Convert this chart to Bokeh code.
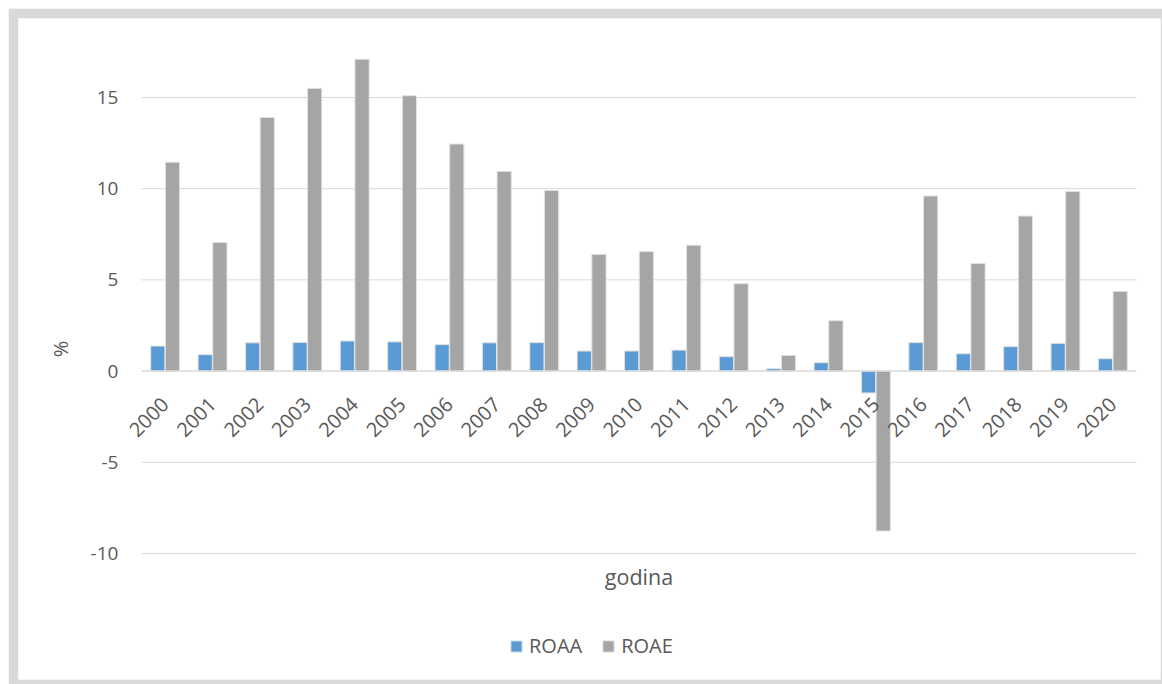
import math
from bokeh.plotting import figure
from bokeh.models import (ColumnDataSource, Legend, LegendItem, Label, Range1d,
                          LinearAxis, FixedTicker)
from bokeh.transform import dodge
from bokeh.embed import file_html
from bokeh.resources import INLINE

years = [str(y) for y in range(2000, 2021)]
roaa = [1.37, 0.90, 1.55, 1.57, 1.65, 1.60, 1.45, 1.55, 1.56, 1.10, 1.10, 1.15,
        0.79, 0.13, 0.46, -1.20, 1.56, 0.95, 1.34, 1.52, 0.68]
roae = [11.45, 7.05, 13.9, 15.5, 17.1, 15.1, 12.45, 10.95, 9.9, 6.4, 6.55, 6.9,
        4.79, 0.86, 2.76, -8.77, 9.6, 5.9, 8.5, 9.85, 4.37]
y_ticks = [-10, -5, 0, 5, 10, 15]

n = len(years)
centers = [i + 0.5 for i in range(n)]
src = ColumnDataSource(dict(xc=centers, year=years, roaa=roaa, roae=roae))

p = figure(x_range=Range1d(-2.595, 21.506), y_range=Range1d(-16.91, 19.33),
           width=1154, height=676, output_backend="svg", toolbar_location=None,
           title=None, x_axis_location=None, y_axis_location="left")
p.styles = {"margin-left": "8px", "margin-top": "8px"}
p.min_border_left = 10
p.min_border_top = 10
p.min_border_right = 2
p.min_border_bottom = 5
p.border_fill_color = "#d9d9d9"
p.background_fill_color = "white"
p.outline_line_color = None
p.xgrid.grid_line_color = None
p.ygrid.grid_line_color = None

# gridlines over the category span only
grid_src = ColumnDataSource(dict(y=[t for t in y_ticks if t != 0]))
p.segment(x0=0, x1=n, y0="y", y1="y", source=grid_src,
          line_color="#d9d9d9", line_width=1)

r1 = p.vbar(x=dodge("xc", -0.155), top="roaa", width=0.30,
            source=src, fill_color="#5b9bd5", line_color="#e2e2e2", line_width=1)
r2 = p.vbar(x=dodge("xc", 0.155), top="roae", width=0.30,
            source=src, fill_color="#a5a5a5", line_color="#e2e2e2", line_width=1)

# zero (category axis) line
p.segment(x0=0, x1=n, y0=0, y1=0, line_color="#d9d9d9", line_width=1.5)

xax = LinearAxis()
xax.fixed_location = 0
xax.ticker = FixedTicker(ticks=centers)
xax.major_label_overrides = {c: y for c, y in zip(centers, years)}
xax.axis_line_color = None
xax.major_tick_in = 0
xax.major_tick_out = 0
xax.major_tick_line_color = None
xax.minor_tick_line_color = None
xax.major_label_orientation = math.pi / 4
xax.major_label_standoff = 30
xax.major_label_text_font = "Open Sans"
xax.major_label_text_font_size = "20px"
xax.major_label_text_color = "#595959"
p.add_layout(xax, "below")

yax = p.yaxis[0]
yax.fixed_location = 0
yax.ticker = FixedTicker(ticks=y_ticks)
yax.major_label_overrides = {t: str(t) for t in y_ticks}
yax.axis_line_color = None
yax.major_tick_line_color = None
yax.minor_tick_line_color = None
yax.major_tick_out = 0
yax.major_tick_in = 0
yax.major_label_standoff = 23
yax.major_label_text_font = "Open Sans"
yax.major_label_text_font_size = "19px"
yax.major_label_text_color = "#595959"
yax.axis_label = "%"
yax.axis_label_text_font = "Open Sans"
yax.axis_label_text_font_size = "20px"
yax.axis_label_text_font_style = "normal"
yax.axis_label_text_color = "#595959"
yax.axis_label_standoff = 14

lbl = Label(x=n / 2, y=-11.26, text="godina",
            text_align="center", text_baseline="middle", text_font="Open Sans",
            text_font_size="21.5px", text_color="#595959")
p.add_layout(lbl)

legend = Legend(items=[LegendItem(label="ROAA", renderers=[r1]),
                       LegendItem(label="ROAE", renderers=[r2])],
                orientation="horizontal", location=(491, 20))
legend.padding = 0
legend.margin = 0
legend.spacing = 19
legend.glyph_width = 14
legend.glyph_height = 14
legend.label_standoff = 6
legend.label_text_font = "Open Sans"
legend.label_text_font_size = "20px"
legend.label_text_color = "#595959"
legend.border_line_alpha = 0
legend.background_fill_alpha = 0
p.add_layout(legend, "center")

open("out.html", "w").write(file_html(p, INLINE))
